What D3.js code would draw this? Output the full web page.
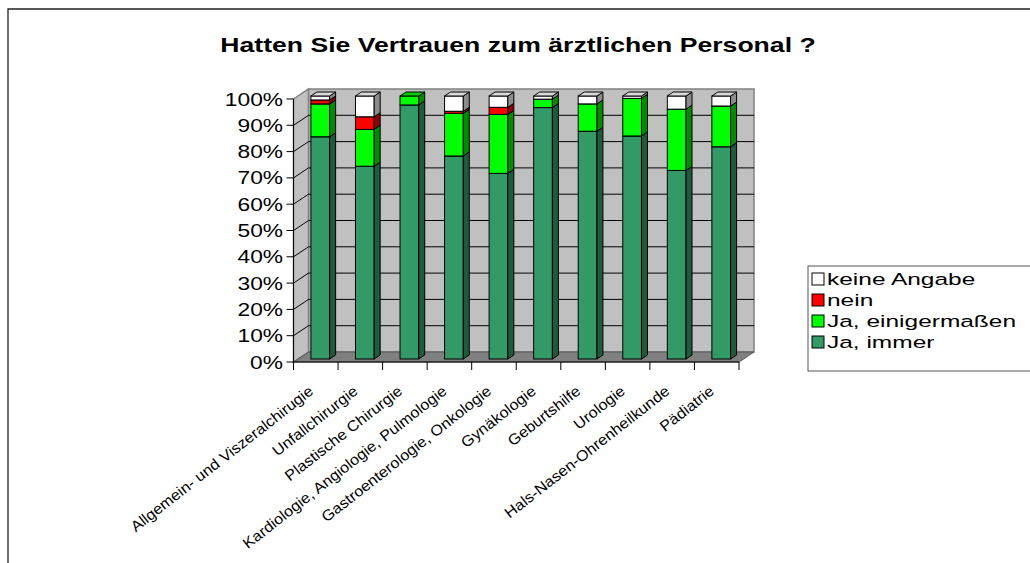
<!DOCTYPE html>
<html><head><meta charset="utf-8">
<script src="https://cdn.jsdelivr.net/npm/d3@7/dist/d3.min.js"></script>
<style>html,body{margin:0;padding:0;background:#fff;}svg{display:block;font-family:"Liberation Sans",Arial,sans-serif;}</style>
</head><body>
<svg id="c" width="1030" height="563"></svg>
<script>
const title = "Hatten Sie Vertrauen zum ärztlichen Personal ?";
const categories = ["Allgemein- und Viszeralchirugie","Unfallchirurgie","Plastische Chirurgie","Kardiologie, Angiologie, Pulmologie","Gastroenterologie, Onkologie","Gynäkologie","Geburtshilfe","Urologie","Hals-Nasen-Ohrenheilkunde","Pädiatrie"];
const seriesNames = ["Ja, immer","Ja, einigermaßen","nein","keine Angabe"];
const jaImmer = [84.5, 73.3, 96.6, 77.2, 70.6, 95.6, 86.6, 84.8, 71.7, 80.7];
const jaEinig = [12.5, 14.0, 3.4, 16.2, 22.4, 3.2, 10.4, 14.3, 23.3, 15.5];
const nein    = [1.5, 4.8, 0, 0.8, 2.7, 0, 0, 0, 0, 0];
const keine   = [1.5, 7.9, 0, 5.8, 4.3, 1.2, 3.0, 0.9, 5.0, 3.8];
const yTicks = [0,10,20,30,40,50,60,70,80,90,100];
const yTickLabels = yTicks.map(v => v + "%");

const colors = [
  {front:"#339966", side:"#1f5a3d", top:"#2b8558"},
  {front:"#00ff00", side:"#008c00", top:"#00cc00"},
  {front:"#ff0000", side:"#8c0000", top:"#cc0000"},
  {front:"#ffffff", side:"#8c8c8c", top:"#d9d9d9"}
];
const seriesData = [jaImmer, jaEinig, nein, keine];

const svg = d3.select("#c");
// border
svg.append("path").attr("d","M8,563 V9 H1030").attr("fill","none").attr("stroke","#222").attr("stroke-width",1.3);

svg.append("text").attr("transform",`translate(518,52) scale(1.33,1)`)
  .attr("text-anchor","middle").attr("font-size",20).attr("font-weight","bold").text(title);

const x0 = 293.5, x1 = 739, yBottom = 362, yTop = 99;
const D = {x:15, y:-10};
const x = d3.scaleBand().domain(categories).range([x0, x1]).padding(0);
const y = d3.scaleLinear().domain([0,100]).range([yBottom, yTop]);

const g = svg.append("g");
// back wall
g.append("rect").attr("x", x0+D.x).attr("y", yTop+D.y).attr("width", x1-x0).attr("height", yBottom-yTop)
  .attr("fill","#c0c0c0").attr("stroke","#808080").attr("stroke-width",1.5);
// left side wall
g.append("polygon").attr("points",[[x0,yTop],[x0+D.x,yTop+D.y],[x0+D.x,yBottom+D.y],[x0,yBottom]].map(p=>p.join(",")).join(" "))
  .attr("fill","#c0c0c0").attr("stroke","#808080").attr("stroke-width",1.5);
// floor
g.append("polygon").attr("points",[[x0,yBottom],[x1,yBottom],[x1+D.x,yBottom+D.y],[x0+D.x,yBottom+D.y]].map(p=>p.join(",")).join(" "))
  .attr("fill","#808080").attr("stroke","#555").attr("stroke-width",1);
// gridlines
yTicks.filter(v => v>0 && v<100).forEach(v => {
  const yy = y(v);
  g.append("polyline").attr("points",`${x0},${yy} ${x0+D.x},${yy+D.y} ${x1+D.x},${yy+D.y}`)
    .attr("fill","none").attr("stroke","#000").attr("stroke-width",1);
});

// bars
const bw = x.bandwidth();
const barW = bw*0.42;
const f0 = 0.3, fd = 0.4;
const bdx = D.x*fd, bdy = D.y*fd;
categories.forEach((c,i) => {
  const xl = x(c) + (bw-barW)/2 + D.x*f0;
  const xr = xl + barW;
  let cum = 0;
  seriesData.forEach((arr,s) => {
    const v = arr[i];
    if (v <= 0) return;
    const yb = y(cum) + D.y*f0;
    const yt = y(cum+v) + D.y*f0;
    cum += v;
    const col = colors[s];
    g.append("rect").attr("x",xl).attr("y",yt).attr("width",barW).attr("height",yb-yt)
      .attr("fill",col.front).attr("stroke","#000").attr("stroke-width",1);
    g.append("polygon").attr("points",`${xr},${yt} ${xr+bdx},${yt+bdy} ${xr+bdx},${yb+bdy} ${xr},${yb}`)
      .attr("fill",col.side).attr("stroke","#000").attr("stroke-width",1);
    g.append("polygon").attr("points",`${xl},${yt} ${xr},${yt} ${xr+bdx},${yt+bdy} ${xl+bdx},${yt+bdy}`)
      .attr("fill",col.top).attr("stroke","#000").attr("stroke-width",1);
  });
});

// axes
const ax = svg.append("g");
ax.append("line").attr("x1",x0).attr("x2",x0).attr("y1",yTop).attr("y2",yBottom).attr("stroke","#000");
ax.append("line").attr("x1",x0).attr("x2",x1).attr("y1",yBottom).attr("y2",yBottom).attr("stroke","#000");
yTicks.forEach((v,k) => {
  ax.append("line").attr("x1",x0-7).attr("x2",x0).attr("y1",y(v)).attr("y2",y(v)).attr("stroke","#000");
  ax.append("text").attr("transform",`translate(283,${y(v)+6.5}) scale(1.3,1)`)
    .attr("text-anchor","end").attr("font-size",17.5).text(yTickLabels[k]);
});
for (let i=0;i<=categories.length;i++){
  const xx = x0 + i*bw;
  ax.append("line").attr("x1",xx).attr("x2",xx).attr("y1",yBottom).attr("y2",yBottom+8).attr("stroke","#000");
}
categories.forEach(c => {
  const cx = x(c) + bw/2;
  ax.append("text").attr("transform",`translate(${cx-1.5},393) rotate(-38) scale(1.08,1)`)
    .attr("text-anchor","end").attr("font-size",15).text(c);
});

// legend
const lg = svg.append("g");
lg.append("rect").attr("x",808).attr("y",266).attr("width",240).attr("height",105)
  .attr("fill","#fff").attr("stroke","#555").attr("stroke-width",1);
const legendOrder = [3,2,1,0];
legendOrder.forEach((s,k) => {
  const cy = 279 + k*21;
  lg.append("rect").attr("x",812).attr("y",cy-6).attr("width",12).attr("height",12)
    .attr("fill",colors[s].front).attr("stroke","#000").attr("stroke-width",1);
  lg.append("text").attr("transform",`translate(827,${cy+6}) scale(1.44,1)`)
    .attr("font-size",17).text(seriesNames[s]);
});
</script>
</body></html>
